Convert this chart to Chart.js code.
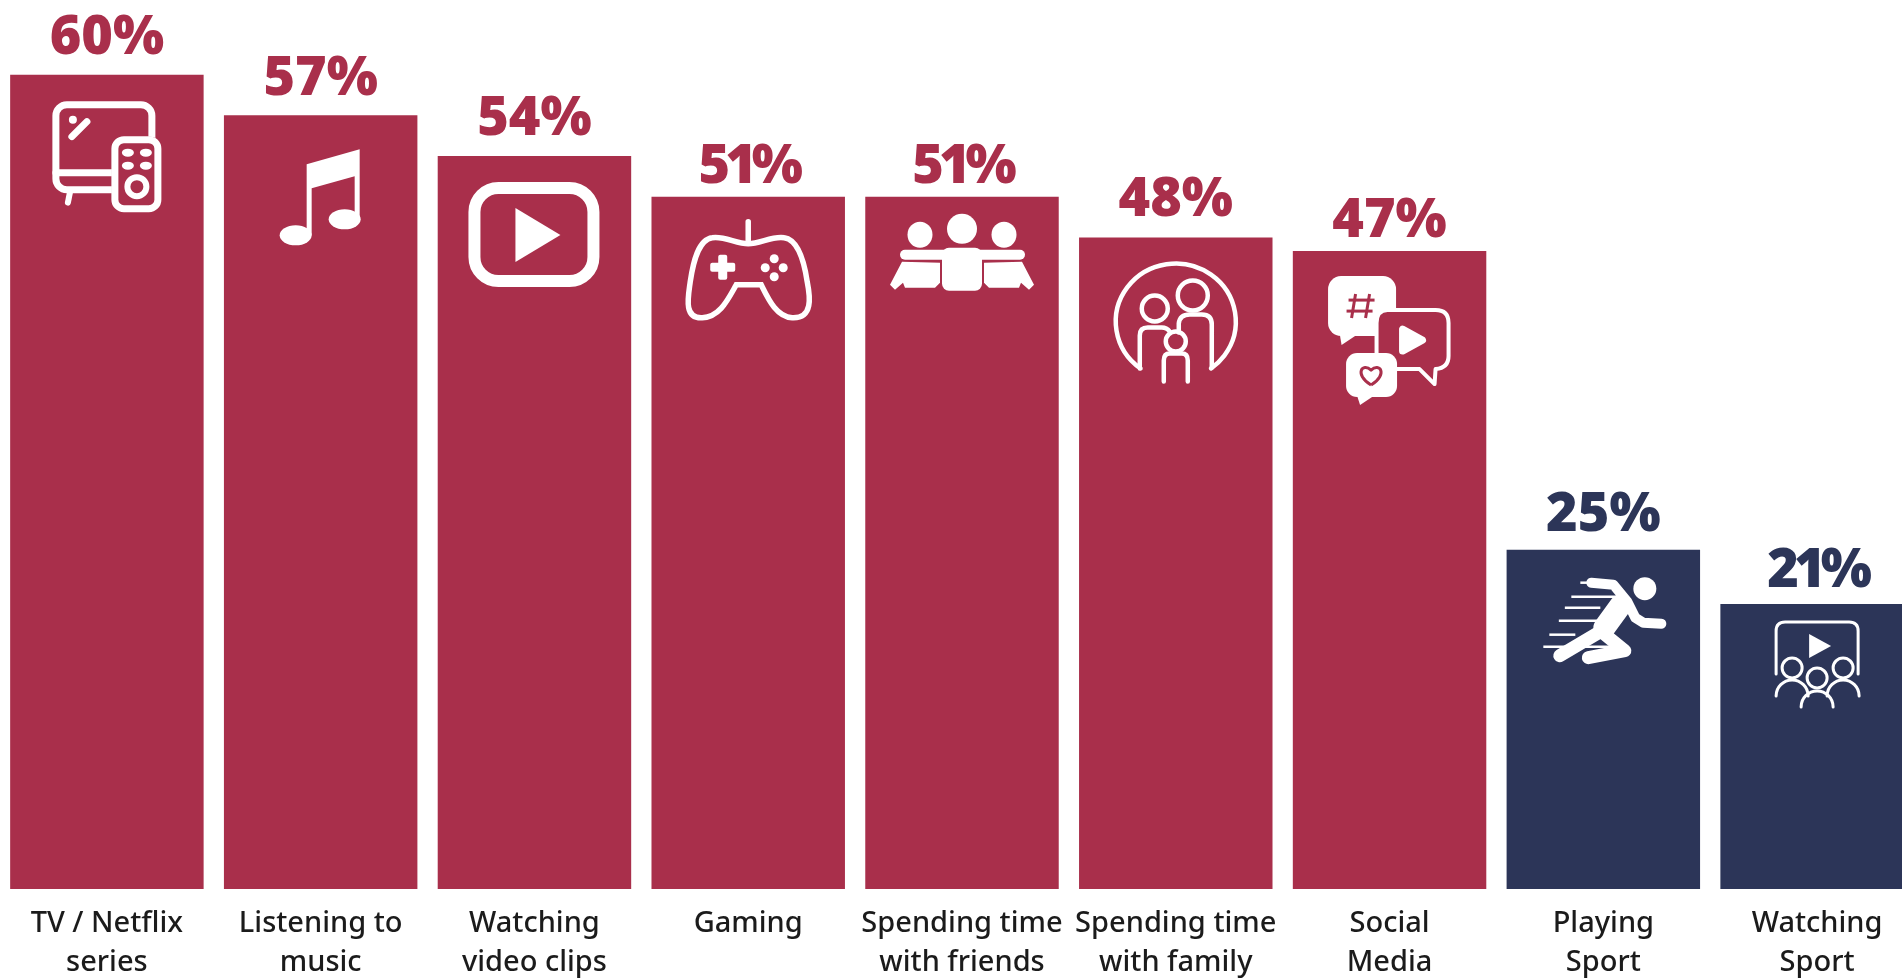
<!DOCTYPE html>
<html>
<head>
<meta charset="utf-8">
<script src="https://cdn.jsdelivr.net/npm/chart.js@4/dist/chart.umd.min.js"></script>
<style>
  html, body { margin: 0; padding: 0; background: #fff; overflow: hidden; width: 1902px; height: 978px; }
  #wrap { width: 1902px; height: 978px; overflow: hidden; position: relative; }
  canvas { display: block; }
</style>
</head>
<body>
<div id="wrap"><canvas id="chart" width="1924" height="978"></canvas></div>
<script>
const categories = [
  ["TV / Netflix", "series"], ["Listening to", "music"], ["Watching", "video clips"],
  ["Gaming"], ["Spending time", "with friends"], ["Spending time", "with family"],
  ["Social", "Media"], ["Playing", "Sport"], ["Watching", "Sport"]
];
const shares = [60, 57, 54, 51, 51, 48, 47, 25, 21];
const CRIMSON = "#A92F4B";
const NAVY = "#2C3558";
const barColors = [CRIMSON, CRIMSON, CRIMSON, CRIMSON, CRIMSON, CRIMSON, CRIMSON, NAVY, NAVY];
const labelLift = [21, 20, 21, 14, 14, 22, 14, 19, 17];
const Y_MAX = 65.5;

// Icon glyphs: origin is the top centre of the bar they sit in.
const WHITE = "#fff";
function rr(c, x, y, w, h, r) { c.beginPath(); c.roundRect(x, y, w, h, r); }
function dot(c, x, y, rx, ry) { c.beginPath(); c.ellipse(x, y, rx, ry === undefined ? rx : ry, 0, 0, Math.PI * 2); c.fill(); }
function poly(c, pts) { c.beginPath(); pts.forEach((p, i) => i ? c.lineTo(p[0], p[1]) : c.moveTo(p[0], p[1])); c.closePath(); c.fill(); }
function line(c, pts) { c.beginPath(); pts.forEach((p, i) => i ? c.lineTo(p[0], p[1]) : c.moveTo(p[0], p[1])); c.stroke(); }

const icons = [
  function tv(c, bg) {
    c.lineWidth = 7;
    rr(c, -51, 30, 96, 85, 11); c.stroke();
    line(c, [[-51, 98], [5, 98]]);
    c.lineWidth = 6; line(c, [[-37, 118], [-39, 128]]);
    c.lineWidth = 7; line(c, [[-35, 62], [-20, 47]]);
    dot(c, -34, 45, 4, 4);
    c.fillStyle = bg; rr(c, 5, 62, 49, 75, 11); c.fill();
    c.fillStyle = WHITE;
    c.lineWidth = 7; rr(c, 8, 65, 43, 69, 9); c.stroke();
    [[21, 78], [39, 78], [21, 91], [39, 91]].forEach(p => dot(c, p[0], p[1], 6, 4));
    c.lineWidth = 6; c.beginPath(); c.arc(30, 112, 9.5, 0, Math.PI * 2); c.stroke();
  },
  function music(c) {
    dot(c, -25, 120, 16, 10);
    dot(c, 24, 104, 16, 10);
    poly(c, [[-14, 49], [39, 34], [39, 104], [34, 104], [34, 61], [-9, 73], [-9, 120], [-14, 120]]);
  },
  function play(c) {
    c.lineWidth = 12;
    rr(c, -60, 32, 119, 93, 24); c.stroke();
    poly(c, [[-19, 52], [-19, 106], [26, 79]]);
  },
  function gamepad(c) {
    c.lineWidth = 5.5;
    line(c, [[0, 25], [0, 44]]);
    c.beginPath();
    c.moveTo(0, 47);
    c.bezierCurveTo(-12, 47, -24, 39, -36, 41);
    c.bezierCurveTo(-50, 43, -55, 65, -58, 85);
    c.bezierCurveTo(-60, 100, -65, 122, -46, 121);
    c.bezierCurveTo(-28, 120, -20, 102, -12, 88);
    c.lineTo(13, 88);
    c.bezierCurveTo(20, 102, 28, 120, 44, 121);
    c.bezierCurveTo(65, 122, 62, 100, 59, 85);
    c.bezierCurveTo(56, 65, 50, 43, 36, 41);
    c.bezierCurveTo(24, 39, 12, 47, 0, 47);
    c.closePath(); c.stroke();
    rr(c, -38, 66, 25, 9, 2); c.fill();
    rr(c, -30, 58, 9, 25, 2); c.fill();
    [[26, 62], [26, 80], [17, 71], [35, 71]].forEach(p => dot(c, p[0], p[1], 4.5));
  },
  function friends(c, bg) {
    dot(c, -42, 38, 12.5, 13);
    dot(c, 0, 32, 15, 15);
    dot(c, 42, 38, 12.5, 13);
    rr(c, -20, 51, 40, 43, 7); c.fill();
    rr(c, -62, 53, 125, 10, 5); c.fill();
    [-1, 1].forEach(s => {
      c.beginPath();
      [[-60, 65], [-72, 88], [-67, 93], [-59, 86], [-57, 91], [-27, 91], [-22, 86], [-22, 66]]
        .forEach((p, i) => i ? c.lineTo(-s * p[0], p[1]) : c.moveTo(-s * p[0], p[1]));
      c.closePath(); c.fill();
    });
  },
  function family(c) {
    c.lineWidth = 4.5; c.lineJoin = "round"; c.lineCap = "round";
    c.beginPath(); c.moveTo(-36, 131); c.ellipse(0, 84, 60, 58, 0, Math.PI * 0.70, Math.PI * 0.30); c.stroke();
    c.beginPath(); c.arc(17, 58, 15, 0, Math.PI * 2); c.stroke();
    c.beginPath(); c.arc(-21, 71, 13, 0, Math.PI * 2); c.stroke();
    c.beginPath(); c.arc(0, 104, 10, 0, Math.PI * 2); c.stroke();
    c.beginPath(); c.moveTo(3, 95); c.lineTo(3, 86); c.quadraticCurveTo(4, 77, 14, 77); c.lineTo(26, 77); c.quadraticCurveTo(36, 77, 36, 87); c.lineTo(36, 130); c.stroke();
    c.beginPath(); c.moveTo(-36, 130); c.lineTo(-36, 98); c.quadraticCurveTo(-36, 90, -28, 90); c.lineTo(-14, 90); c.quadraticCurveTo(-9, 90, -6, 94); c.stroke();
    c.beginPath(); c.moveTo(-12, 144); c.lineTo(-12, 123); c.quadraticCurveTo(-12, 116, -6, 116); c.lineTo(6, 116); c.quadraticCurveTo(12, 116, 12, 123); c.lineTo(12, 144); c.stroke();
  },
  function social(c, bg) {
    c.lineJoin = "round"; c.lineCap = "butt";
    // hash bubble
    rr(c, -61.5, 25, 68, 60, 13); c.fill();
    poly(c, [[-50, 82], [-48, 94], [-33, 84]]);
    c.strokeStyle = bg; c.lineWidth = 3;
    line(c, [[-34, 43], [-38, 67]]); line(c, [[-20, 43], [-24, 67]]);
    line(c, [[-41, 49], [-15, 49]]); line(c, [[-43, 60], [-17, 60]]);
    // play bubble
    c.strokeStyle = WHITE; c.lineWidth = 4;
    c.fillStyle = bg;
    c.beginPath();
    c.moveTo(-2, 59); c.lineTo(46, 59); c.quadraticCurveTo(59, 59, 59, 72);
    c.lineTo(59, 105); c.quadraticCurveTo(59, 117, 46, 118);
    c.lineTo(45, 133); c.lineTo(30, 118); c.lineTo(-2, 118);
    c.quadraticCurveTo(-13, 118, -13, 105); c.lineTo(-13, 72); c.quadraticCurveTo(-13, 59, -2, 59);
    c.closePath(); c.fill(); c.stroke();
    c.fillStyle = WHITE; c.lineWidth = 7;
    c.beginPath(); c.moveTo(13, 78); c.lineTo(13, 100); c.lineTo(33, 89); c.closePath(); c.fill(); c.stroke();
    // heart bubble
    rr(c, -43.5, 102, 51, 44, 11); c.fill();
    poly(c, [[-33, 143], [-29.5, 154], [-16, 145]]);
    c.strokeStyle = bg; c.lineWidth = 3;
    c.beginPath(); c.moveTo(-18.5, 134);
    c.bezierCurveTo(-36, 123, -27, 111, -18.5, 119);
    c.bezierCurveTo(-10, 111, -1, 123, -18.5, 134); c.stroke();
  },
  function runner(c) {
    c.lineCap = "round"; c.lineJoin = "round";
    dot(c, 41.5, 39, 11.5);
    c.lineWidth = 10;
    line(c, [[-12, 33], [10, 35], [24, 52], [32, 68], [40, 73], [58, 74]]);
    c.lineWidth = 22;
    line(c, [[17, 56], [1, 78]]);
    c.lineWidth = 13;
    line(c, [[-3, 82], [-43.5, 106]]);
    line(c, [[-3, 81], [21.5, 101], [-15, 108]]);
    c.lineWidth = 2.5; c.lineCap = "butt";
    [[-23, 33, -13, 33], [-32, 47, 23, 47], [-38.5, 58, -3, 58], [-44.5, 71, 10, 71], [-54, 85, -28, 85], [-60, 97, 15, 97]]
      .forEach(l => line(c, [[l[0], l[1]], [l[2], l[3]]]));
  },
  function theatre(c) {
    c.lineWidth = 3; c.lineCap = "round";
    c.beginPath(); c.moveTo(-41, 70); c.lineTo(-41, 27); c.quadraticCurveTo(-41, 18, -32, 18);
    c.lineTo(32, 18); c.quadraticCurveTo(41, 18, 41, 27); c.lineTo(41, 70); c.stroke();
    poly(c, [[-8, 30], [-8, 54], [14, 42]]);
    [[-25, 64], [0, 74], [26, 64]].forEach(p => { c.beginPath(); c.arc(p[0], p[1], 10, 0, Math.PI * 2); c.stroke(); });
    [[-25, 92], [26, 92], [0, 103]].forEach(p => { c.beginPath(); c.arc(p[0], p[1], 16, Math.PI, 0); c.stroke(); });
  }
];

// Percent labels above each bar, and the white glyph inside it.
const barDecor = {
  id: "barDecor",
  afterDatasetsDraw(chart) {
    const c = chart.ctx;
    const bars = chart.getDatasetMeta(0).data;
    bars.forEach((bar, i) => {
      const text = shares[i] + "%";
      c.save();
      c.font = "900 54px 'Noto Sans'";
      c.textAlign = "center";
      c.textBaseline = "alphabetic";
      // The figure 1 is tabular in this face, so those labels are set tighter.
      c.letterSpacing = text.includes("1") ? "-5px" : "0px";
      c.fillStyle = barColors[i];
      c.fillText(text, bar.x, bar.y - labelLift[i]);
      c.restore();
      c.save();
      c.translate(bar.x, bar.y);
      c.fillStyle = WHITE; c.strokeStyle = WHITE; c.lineCap = "round";
      icons[i](c, barColors[i]);
      c.restore();
    });
  }
};

new Chart(document.getElementById("chart"), {
  type: "bar",
  data: {
    labels: categories,
    datasets: [{
      data: shares,
      backgroundColor: barColors,
      borderWidth: 0,
      barPercentage: 0.905,
      categoryPercentage: 1
    }]
  },
  options: {
    responsive: false,
    animation: false,
    layout: { padding: 0 },
    plugins: { legend: { display: false }, tooltip: { enabled: false } },
    scales: {
      x: {
        grid: { display: false },
        border: { display: false },
        afterFit(scale) { scale.height = 89; scale.paddingLeft = 0; scale.paddingRight = 0; },
        ticks: {
          maxRotation: 0, minRotation: 0, autoSkip: false,
          padding: 8,
          color: "#1b1b1b",
          font: { family: "'Noto Sans'", size: 29, weight: 500, lineHeight: 1.32 }
        }
      },
      y: {
        display: false,
        min: 0,
        max: Y_MAX
      }
    }
  },
  plugins: [barDecor]
});
</script>
</body>
</html>
